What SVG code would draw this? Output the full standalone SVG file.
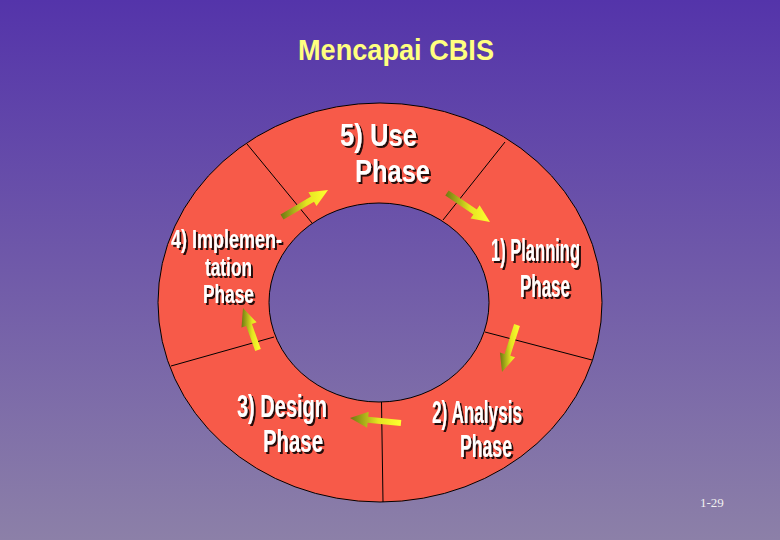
<svg xmlns="http://www.w3.org/2000/svg" width="780" height="540" viewBox="0 0 780 540">
<defs>
<linearGradient id="bg" x1="0" y1="0" x2="0" y2="540" gradientUnits="userSpaceOnUse">
<stop offset="0" stop-color="#5434aa"/>
<stop offset="1" stop-color="#8c80a8"/>
</linearGradient>
<linearGradient id="arr" x1="0" y1="0" x2="1" y2="0">
<stop offset="0" stop-color="#6e7812"/>
<stop offset="0.55" stop-color="#e4e420"/>
<stop offset="1" stop-color="#ffff30"/>
</linearGradient>
<filter id="sh" x="-10%" y="-20%" width="130%" height="150%">
<feDropShadow dx="2" dy="2" stdDeviation="0.4" flood-color="#000" flood-opacity="0.85"/>
</filter>
<style>
.lbl{font-family:"Liberation Sans",Arial,sans-serif;font-weight:bold;fill:#fff;filter:url(#sh)}
.div{stroke:#000;stroke-width:1;fill:none}
.arrow{fill:url(#arr)}
</style>
</defs>
<rect width="780" height="540" fill="url(#bg)"/>
<text x="298" y="60" font-family="Liberation Sans, Arial, sans-serif" font-weight="bold" font-size="29" fill="#ffff80" textLength="196" lengthAdjust="spacingAndGlyphs">Mencapai CBIS</text>
<g id="ring">
<path d="M158,302.5 a222,199.5 0 1,0 444,0 a222,199.5 0 1,0 -444,0 Z M269,302.5 a110,99.5 0 1,0 220,0 a110,99.5 0 1,0 -220,0 Z" fill="#f75a49" fill-rule="evenodd" stroke="#000" stroke-width="1"/>
<line class="div" x1="247" y1="144" x2="312" y2="223"/>
<line class="div" x1="505" y1="142" x2="443" y2="220"/>
<line class="div" x1="485" y1="332" x2="592" y2="360"/>
<line class="div" x1="381.5" y1="402" x2="383" y2="502"/>
<line class="div" x1="274" y1="337" x2="171" y2="366"/>
</g>
<g id="use-phase">
<text class="lbl" x="340" y="146" font-size="32" textLength="77" lengthAdjust="spacingAndGlyphs">5) Use</text>
<text class="lbl" x="355" y="182" font-size="31" textLength="75" lengthAdjust="spacingAndGlyphs">Phase</text>
</g>
<g id="planning-phase">
<text class="lbl" x="491" y="261" font-size="31" textLength="89" lengthAdjust="spacingAndGlyphs">1) Planning</text>
<text class="lbl" x="520" y="297" font-size="31" textLength="50" lengthAdjust="spacingAndGlyphs">Phase</text>
</g>
<g id="analysis-phase">
<text class="lbl" x="432" y="423" font-size="31" textLength="90" lengthAdjust="spacingAndGlyphs">2) Analysis</text>
<text class="lbl" x="460" y="457" font-size="31" textLength="52" lengthAdjust="spacingAndGlyphs">Phase</text>
</g>
<g id="design-phase">
<text class="lbl" x="237" y="417" font-size="31" textLength="90" lengthAdjust="spacingAndGlyphs">3) Design</text>
<text class="lbl" x="263" y="452" font-size="31" textLength="60" lengthAdjust="spacingAndGlyphs">Phase</text>
</g>
<g id="implementation-phase">
<text class="lbl" x="171" y="248" font-size="26" textLength="111" lengthAdjust="spacingAndGlyphs">4) Implemen-</text>
<text class="lbl" x="205" y="276" font-size="26" textLength="47" lengthAdjust="spacingAndGlyphs">tation</text>
<text class="lbl" x="203" y="303" font-size="26" textLength="51" lengthAdjust="spacingAndGlyphs">Phase</text>
</g>
<g id="connectors">
<polygon class="arrow" points="283.5,219.6 314.0,201.7 316.5,206.0 328,190 308.4,192.2 311.0,196.5 280.5,214.4"/>
<polygon class="arrow" points="445.3,195.5 473.4,214.4 470.6,218.6 490,222 479.6,205.3 476.8,209.5 448.7,190.5"/>
<polygon class="arrow" points="514.1,324.1 504.6,353.9 499.9,352.4 502,372 515.1,357.3 510.3,355.8 519.9,325.9"/>
<polygon class="arrow" points="401.3,420.0 368.2,416.8 368.7,411.8 350,418 367.1,427.7 367.6,422.8 400.7,426.0"/>
<polygon class="arrow" points="260.8,349.0 251.9,323.9 256.6,322.3 243,308 241.5,327.6 246.2,326.0 255.2,351.0"/>
</g>
<text x="700" y="507" font-family="Liberation Serif, 'Times New Roman', serif" font-size="13" fill="#f0f0f0">1-29</text>
</svg>
